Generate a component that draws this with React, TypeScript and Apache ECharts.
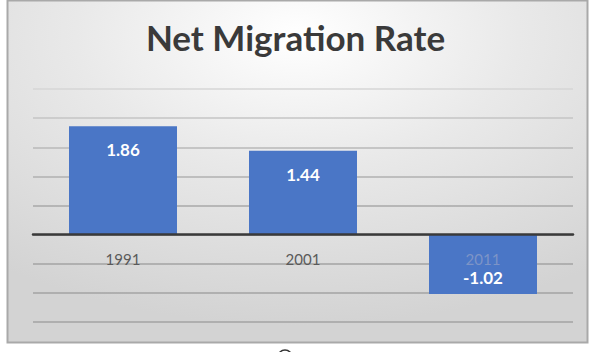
import React, { useEffect, useRef } from "react";
import * as echarts from "echarts";

const categories: string[] = ["1991", "2001", "2011"];
const netMigration: number[] = [1.86, 1.44, -1.02];
const titleText = "Net Migration Rate";
const yMin = -1.5;
const yMax = 2.5;
const yStep = 0.5;

export default function App() {
  const ref = useRef<HTMLDivElement>(null);

  useEffect(() => {
    if (!ref.current) return;
    const chart = echarts.init(ref.current, undefined, { renderer: "svg" });
    const barColor = "#4a76c6";
    const gridTop = 89;
    const gridBottom = 30;
    const gridHeight = 352 - gridTop - gridBottom;
    const zeroOffset = -(gridHeight * (0 - yMin)) / (yMax - yMin);
    const option: any = {
      animation: false,
      backgroundColor: "#ffffff",
      title: {
        text: titleText,
        left: "center",
        top: 19,
        padding: [0, 0, 0, 11],
        textStyle: {
          fontFamily: "Lato",
          fontWeight: "bold",
          fontSize: 35,
          color: "#3a3a3a",
        },
      },
      graphic: [
        {
          type: "rect",
          z: -100,
          silent: true,
          shape: { x: 7.5, y: 0.5, width: 580, height: 342 },
          style: {
            fill: new echarts.graphic.RadialGradient(0.5, 0.1, 0.85, [
              { offset: 0, color: "#ffffff" },
              { offset: 0.45, color: "#e9e9e9" },
              { offset: 1, color: "#d3d3d3" },
            ]),
            stroke: "#a9a9a9",
            lineWidth: 2,
          },
        },
        {
          type: "arc",
          silent: true,
          shape: { cx: 285, cy: 357, r: 7, startAngle: Math.PI, endAngle: Math.PI * 2, clockwise: true },
          style: { stroke: "#333333", lineWidth: 1.5, fill: "none" },
        },
      ],
      grid: { left: 33, right: 18, top: gridTop, bottom: gridBottom },
      xAxis: {
        type: "category",
        data: categories,
        position: "bottom",
        offset: zeroOffset,
        z: 3,
        axisLine: { onZero: false, lineStyle: { color: "#3a3a3a", width: 2.5 } },
        axisTick: { show: false },
        splitLine: { show: false },
        axisLabel: {
          margin: 17,
          fontFamily: "Lato",
          fontSize: 15,
          lineHeight: 15,
          color: (_v: any, idx: number) => (netMigration[idx] < 0 ? "#7d94c6" : "#5a5a5a"),
        },
      },
      yAxis: {
        type: "value",
        min: yMin,
        max: yMax,
        interval: yStep,
        axisLine: { show: false },
        axisTick: { show: false },
        axisLabel: { show: false },
        splitLine: {
          lineStyle: {
            color: ["#a3a3a3", "#a3a3a3", "#a3a3a3", "#a3a3a3", "#a8a8a8", "#b0b0b0", "#b8b8b8", "#c4c4c4", "#d6d6d6"],
            width: 1.5,
          },
        },
      },
      series: [
        {
          type: "bar",
          barWidth: "60%",
          itemStyle: { color: barColor },
          data: netMigration.map((v) => ({
            value: v,
            label: {
              position: v >= 0 ? "insideTop" : "insideBottom",
              distance: v >= 0 ? 15 : 8,
            },
          })),
          label: {
            show: true,
            color: "#ffffff",
            fontFamily: "Lato",
            fontWeight: "bold",
            fontSize: 17,
            lineHeight: 17,
            formatter: (p: any) => Number(p.value).toFixed(2),
          },
        },
      ],
    };
    chart.setOption(option);
    return () => chart.dispose();
  }, []);

  return (
    <div
      ref={ref}
      style={{ position: "fixed", left: 0, top: 0, width: 591, height: 352 }}
    />
  );
}
